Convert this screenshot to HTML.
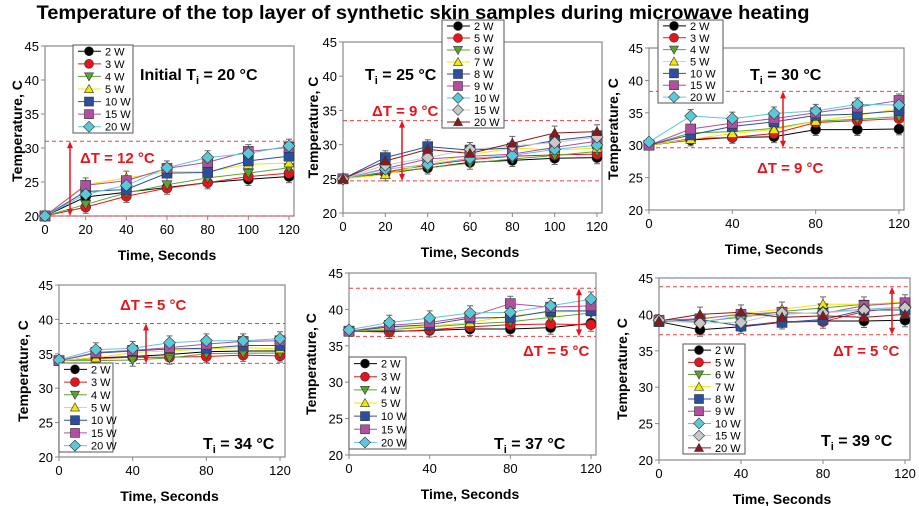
<!DOCTYPE html>
<html><head><meta charset="utf-8"><style>
body{margin:0;background:#fff;width:919px;height:506px;overflow:hidden}
svg{display:block;font-family:"Liberation Sans",Arial,sans-serif}
</style></head><body>
<svg id="s" width="919" height="506" xmlns="http://www.w3.org/2000/svg">
<text x="423" y="19" font-size="19" font-weight="bold" text-anchor="middle" textLength="773" lengthAdjust="spacingAndGlyphs">Temperature of the top layer of synthetic skin samples during microwave heating</text>
</svg>
<script>
const S=document.getElementById('s');
let out='';
const ST={
'2 W':['#000','circle'],'3 W':['#e8141c','circle'],
'4 W':['#5aa532','down'],'6 W':['#5aa532','down'],'5 W':['#f0e800','up'],'7 W':['#f0e800','up'],
'10 W':['#2c4ea0','square'],'8 W':['#2c4ea0','square'],'15 W':['#b04fa0','square'],'9 W':['#b04fa0','square'],
'20 W':['#5bc8d8','diamond'],'10 Wc':['#5bc8d8','diamond'],'15 Wg':['#c8c8c8','diamond'],'20 Wr':['#8b1a1a','up'],'5 Wr':['#e8141c','circle']};
function mk(t,x,y,r){const c=ST[t][0];const k=ST[t][1];r=r||5;
 const st=`fill="${c}" stroke="#333" stroke-width="0.6"`;
 if(k=='circle')return `<circle cx="${x}" cy="${y}" r="${r}" ${st}/>`;
 if(k=='square')return `<rect x="${x-r}" y="${y-r}" width="${2*r}" height="${2*r}" ${st}/>`;
 if(k=='diamond')return `<polygon points="${x},${y-r-1} ${x+r+1},${y} ${x},${y+r+1} ${x-r-1},${y}" ${st}/>`;
 if(k=='up')return `<polygon points="${x},${y-r} ${x+r},${y+r*0.8} ${x-r},${y+r*0.8}" ${st}/>`;
 return `<polygon points="${x},${y+r} ${x+r},${y-r*0.8} ${x-r},${y-r*0.8}" ${st}/>`;}
function panel(p){
 const X=v=>p.x0+(p.x1-p.x0)*v/120, Y=v=>p.y20+(p.y45-p.y20)*(v-20)/25;
 out+=`<rect x="${p.x0}" y="${p.y45}" width="${p.x1-p.x0+5}" height="${p.y20-p.y45}" fill="#fff" stroke="#8a8a8a" stroke-width="1.2"/>`;
 for(let v=20;v<=45;v+=5){out+=`<line x1="${p.x0-4}" x2="${p.x0}" y1="${Y(v)}" y2="${Y(v)}" stroke="#888"/><text x="${p.x0-6}" y="${Y(v)+5}" font-size="13" text-anchor="end">${v}</text>`;}
 for(let v=0;v<=120;v+=p.step){out+=`<line x1="${X(v)}" x2="${X(v)}" y1="${p.y20}" y2="${p.y20+4}" stroke="#888"/><text x="${X(v)}" y="${p.y20+18}" font-size="13" text-anchor="middle">${v}</text>`;}
 out+=`<text x="${(p.x0+p.x1)/2}" y="${p.y20+44}" font-size="14" font-weight="bold" text-anchor="middle">Time, Seconds</text>`;
 out+=`<text transform="translate(${p.yt},${(p.y20+p.y45)/2}) rotate(-90)" font-size="14" font-weight="bold" text-anchor="middle">Temperature, C</text>`;
 p.dash.forEach(d=>out+=`<line x1="${p.x0}" x2="${p.x1+5}" y1="${Y(d)}" y2="${Y(d)}" stroke="#f04040" stroke-dasharray="4,3" stroke-width="1"/>`);
 const xs=[0,20,40,60,80,100,120];
 p.ser.forEach(s=>{const c=ST[s[0]][0];
  let pts=s[1].map((v,i)=>X(xs[i])+','+Y(v)).join(' ');
  out+=`<polyline points="${pts}" fill="none" stroke="${c}" stroke-width="1"/>`;});
 xs.forEach((x,i)=>{if(i==0)return;let mx=-1,mn=99;p.ser.forEach(s=>{mx=Math.max(mx,s[1][i]);mn=Math.min(mn,s[1][i]);});
  out+=`<line x1="${X(x)}" x2="${X(x)}" y1="${Y(mx+1)}" y2="${Y(mn-0.9)}" stroke="#666"/><line x1="${X(x)-3}" x2="${X(x)+3}" y1="${Y(mx+1)}" y2="${Y(mx+1)}" stroke="#666"/><line x1="${X(x)-3}" x2="${X(x)+3}" y1="${Y(mn-0.9)}" y2="${Y(mn-0.9)}" stroke="#666"/>`;});
 p.ser.forEach(s=>{s[1].forEach((v,i)=>out+=mk(s[0],X(xs[i]),Y(v)));});
 const ax=p.ax,a1=Y(p.dash[0]),a2=Y(p.dash[1]);
 out+=`<line x1="${ax}" x2="${ax}" y1="${a1+5}" y2="${a2-5}" stroke="#e8141c" stroke-width="1.5"/><polygon points="${ax},${a1} ${ax-3},${a1+7} ${ax+3},${a1+7}" fill="#e8141c"/><polygon points="${ax},${a2} ${ax-3},${a2-7} ${ax+3},${a2-7}" fill="#e8141c"/>`;
 out+=`<text x="${p.dt[0]}" y="${p.dt[1]}" font-size="15" font-weight="bold" fill="#e8141c">ΔT = ${p.dt[2]} °C</text>`;
 out+=`<text x="${p.ti[0]}" y="${p.ti[1]}" font-size="16" font-weight="bold">${p.ti[2]}T<tspan font-size="11" dy="4">i</tspan><tspan dy="-4"> = ${p.ti[3]} °C</tspan></text>`;
 const L=p.leg;const n=p.ser.length;const h=(L[3]-L[1])/n;
 out+=`<rect x="${L[0]}" y="${L[1]}" width="${L[2]-L[0]}" height="${L[3]-L[1]}" fill="#fff" stroke="#555"/>`;
 p.ser.forEach((s,i)=>{const yy=L[1]+h*(i+0.5);const c=ST[s[0]][0];
  out+=`<line x1="${L[0]+5}" x2="${L[0]+28}" y1="${yy}" y2="${yy}" stroke="${c}"/>`+mk(s[0],L[0]+16,yy,4.5)+`<text x="${L[0]+32}" y="${yy+4}" font-size="11">${s[0].replace(/[a-z]$/,'')}</text>`;});
}
const A=[['2 W'],['3 W'],['4 W'],['5 W'],['10 W'],['15 W'],['20 W']];
function S7(d){return A.map((a,i)=>[a[0],d[i]]);}
const N9=['2 W','5 Wr','6 W','7 W','8 W','9 W','10 Wc','15 Wg','20 Wr'];
function S9(d){return N9.map((a,i)=>[a,d[i]]);}
panel({x0:45,x1:289,y45:46,y20:216,step:20,yt:22,dash:[31,20],ax:70,dt:[80,163,'12'],ti:[140,80,'Initial ',20],leg:[73,45,133,133],
ser:S7([[20,22.8,23.5,24.2,24.9,25.4,25.8],[20,21.3,22.9,24.1,24.9,25.8,26.3],[20,21.7,23.4,24.6,25.6,26.3,27.1],[20,24.6,25.6,26.5,26.5,27.6,27.8],[20,23.6,23.9,26.3,26.4,28.1,28.8],[20,24.5,25.2,27,27.9,29.5,30.1],[20,23.2,24.5,27.1,28.6,29.2,30.3]])});
panel({x0:343,x1:597,y45:42,y20:213,step:20,yt:318,dash:[33.5,24.7],ax:402,dt:[372,116,'9'],ti:[365,80,'',25],leg:[442,20,504,128],
ser:S9([[25,25.8,26.6,27.4,27.7,28,28.1],[25,26,27,27.8,28.3,28.5,28.6],[25,25.9,26.6,27.3,27.9,28.4,29],[25,25.6,27.3,28.5,29.5,29.2,29.5],[25,28.1,29.7,29.2,29.5,30.6,31.3],[25,26.5,27.9,28.3,28.6,29.6,30.5],[25,26.4,27.1,28,28.4,29.3,29.9],[25,27,28.1,29.3,29.8,30.3,31.1],[25,27.6,29.3,28.7,30.2,31.7,31.9]])});
panel({x0:649,x1:899,y45:48,y20:210,step:40,yt:618,dash:[38.3,29.6],ax:783,dt:[757,173,'9'],ti:[750,80,'',30],leg:[658,20,723,103],
ser:S7([[30,30.8,31.2,31.3,32.4,32.4,32.5],[30,31,31.2,31.8,33.5,33.8,34.1],[30,31.9,32.1,32.6,33.7,34,34.4],[30,30.9,31.8,32.4,33.7,34.6,35.6],[30,31.6,32.9,33.6,34.6,34.8,35.3],[30,32.5,33.4,34.1,35,35.9,36.9],[30.5,34.5,34.1,34.9,35.3,36.3,36.2]])});
panel({x0:59,x1:280,y45:285,y20:457,step:40,yt:28,dash:[39.4,33.6],ax:146,dt:[120,310,'5'],ti:[203,449,'',34],leg:[59,363,113,452],
ser:S7([[34,34.4,34.6,34.9,35.3,35.4,35.4],[34,34.3,34.5,34.5,34.6,34.8,34.7],[34,34,34.1,34.4,35,35.1,35.1],[34,34.4,35.2,35.4,35.7,35.9,35.7],[34,35.1,35.4,35.7,35.8,36.2,36.2],[34,35.2,35.5,35.9,36.4,36.8,36.9],[34.1,35.6,35.8,36.6,36.9,36.9,37.2]])});
panel({x0:349,x1:591,y45:273,y20:455,step:40,yt:316,dash:[42.9,36.3],ax:579,dt:[523,356,'5'],ti:[494,449,'',37],leg:[349,357,406,449],
ser:S7([[37,37,37.1,37.3,37.3,37.5,38.1],[37,36.9,37.2,37.6,37.9,38,37.9],[37,37.2,37.6,38,38.3,38.9,39.5],[37,37.5,37.7,38.2,39.1,39.6,39.8],[37,37.6,37.9,38.8,38.9,39.8,39.8],[37,37.8,38.2,39,40.8,40.3,40.5],[37.2,38.2,38.8,39.5,39.6,40.5,41.4]])});
panel({x0:659,x1:905,y45:278,y20:460,step:40,yt:627,dash:[43.8,37.2],ax:892,dt:[833,356,'5'],ti:[821,446,'',39],leg:[683,344,745,454],
ser:S9([[39,37.9,38.3,38.9,39.1,39.1,39.2],[39,39.3,38.4,39,39,40.4,41],[39,39,39.6,40.4,40.9,41.4,41.6],[39,39.3,40.1,40.7,41.4,41.4,41.7],[39,39.3,38.4,38.9,39.3,40.6,40.6],[39.2,39.4,40,40.3,40.1,41.2,41.6],[39.2,38.9,39.8,40,40.3,40.7,41],[39.2,38.8,38.9,40.2,40.2,40.6,40.9],[39.1,40,40.3,39.6,39.8,39.6,40]])});
S.insertAdjacentHTML('beforeend',out);
</script>
</body></html>
